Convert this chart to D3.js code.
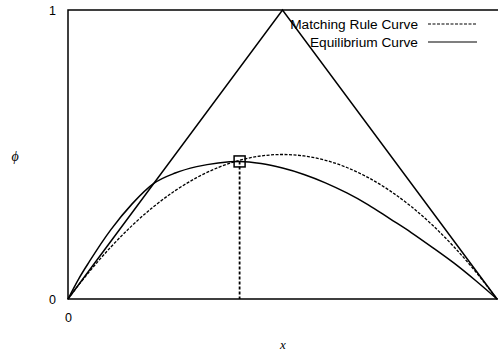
<!DOCTYPE html>
<html>
<head>
<meta charset="utf-8">
<script src="https://cdn.jsdelivr.net/npm/d3@7"></script>
<style>
  html, body { margin: 0; padding: 0; background: #fff; }
  svg { display: block; }
</style>
</head>
<body>
<svg id="chart" width="498" height="355"></svg>
<script>
// ---- data ----
const xGrid = [0, 0.025, 0.05, 0.1, 0.15, 0.2, 0.25, 0.3, 0.35, 0.4, 0.45, 0.5, 0.55, 0.6, 0.65, 0.7, 0.75, 0.8, 0.85, 0.9, 0.95, 1];
const matchingRule = [0, 0.049, 0.095, 0.18, 0.255, 0.32, 0.375, 0.42, 0.455, 0.48, 0.495, 0.5, 0.495, 0.48, 0.455, 0.42, 0.375, 0.32, 0.255, 0.18, 0.095, 0];
const equilibrium = [0, 0.07, 0.13, 0.24, 0.33, 0.40, 0.436, 0.458, 0.471, 0.476, 0.469, 0.453, 0.431, 0.402, 0.367, 0.326, 0.278, 0.23, 0.178, 0.124, 0.064, 0];
const triangleX = [0, 0.5, 1];
const triangleY = [0, 1, 0];
const equilibriumPoint = [0.40, 0.476];
const xTicks = [0];
const yTicks = [0, 1];
const legendLabels = ["Matching Rule Curve", "Equilibrium Curve"];

// ---- layout ----
const svg = d3.select("#chart");
const L = 68, R = 497, T = 10, B = 299;
const x = d3.scaleLinear().domain([0, 1]).range([L, R]);
const y = d3.scaleLinear().domain([0, 1]).range([B, T]);

// frame (left, top, bottom)
svg.append("path")
  .attr("d", `M${R + 2},${y(1)}H${x(0)}V${y(0)}H${R + 2}`)
  .attr("fill", "none").attr("stroke", "#000").attr("stroke-width", 1.5);

// axes tick labels
const yAxis = d3.axisLeft(y).tickValues(yTicks).tickSize(0).tickPadding(12).tickFormat(d3.format("d"));
const gy = svg.append("g").attr("transform", `translate(${L},0)`).call(yAxis);
gy.select(".domain").remove();
gy.selectAll("text").attr("font-family", "Liberation Sans, Arial, sans-serif").attr("font-size", 12.5).attr("fill", "#000");

const xAxis = d3.axisBottom(x).tickValues(xTicks).tickSize(0).tickPadding(14).tickFormat(d3.format("d"));
const gx = svg.append("g").attr("transform", `translate(0,${B})`).call(xAxis);
gx.select(".domain").remove();
gx.selectAll("text").attr("font-family", "Liberation Sans, Arial, sans-serif").attr("font-size", 12.5).attr("fill", "#000");

// axis titles
svg.append("text").attr("x", 15).attr("y", 161).attr("text-anchor", "middle")
  .attr("font-family", "Liberation Serif, serif").attr("font-style", "italic").attr("font-size", 14)
  .text("\u03D5");
svg.append("text").attr("x", 283).attr("y", 349).attr("text-anchor", "middle")
  .attr("font-family", "Liberation Serif, serif").attr("font-style", "italic").attr("font-size", 13)
  .text("x");

// triangle
const lineXY = d3.line().x(d => x(d[0])).y(d => y(d[1]));
svg.append("path")
  .datum(triangleX.map((v, i) => [v, triangleY[i]]))
  .attr("d", lineXY).attr("fill", "none").attr("stroke", "#000").attr("stroke-width", 1.5);

// curves
const curveLine = d3.line().x(d => x(d[0])).y(d => y(d[1])).curve(d3.curveMonotoneX);
svg.append("path")
  .datum(xGrid.map((v, i) => [v, matchingRule[i]]))
  .attr("d", curveLine).attr("fill", "none").attr("stroke", "#000").attr("stroke-width", 1.3)
  .attr("stroke-dasharray", "3,1.5");
svg.append("path")
  .datum(xGrid.map((v, i) => [v, equilibrium[i]]))
  .attr("d", curveLine).attr("fill", "none").attr("stroke", "#000").attr("stroke-width", 1.5);

// vertical dashed drop line
svg.append("line")
  .attr("x1", x(equilibriumPoint[0])).attr("x2", x(equilibriumPoint[0]))
  .attr("y1", y(equilibriumPoint[1])).attr("y2", y(0))
  .attr("stroke", "#000").attr("stroke-width", 1.8).attr("stroke-dasharray", "3,2");

// square marker
svg.append("rect")
  .attr("x", x(equilibriumPoint[0]) - 5.5).attr("y", y(equilibriumPoint[1]) - 5.5)
  .attr("width", 11).attr("height", 11)
  .attr("fill", "none").attr("stroke", "#000").attr("stroke-width", 1.5);

// legend
const legend = svg.append("g");
legendLabels.forEach((lab, i) => {
  const ly = 24 + i * 18;
  legend.append("text").attr("x", 418).attr("y", ly + 4.5).attr("text-anchor", "end")
    .attr("font-family", "Liberation Sans, Arial, sans-serif").attr("font-size", 13.7).attr("fill", "#000")
    .text(lab);
  legend.append("line").attr("x1", 428).attr("x2", 477).attr("y1", ly).attr("y2", ly)
    .attr("stroke", "#000").attr("stroke-width", 1.2)
    .attr("stroke-dasharray", i === 0 ? "3,1.5" : null);
});
</script>
</body>
</html>
